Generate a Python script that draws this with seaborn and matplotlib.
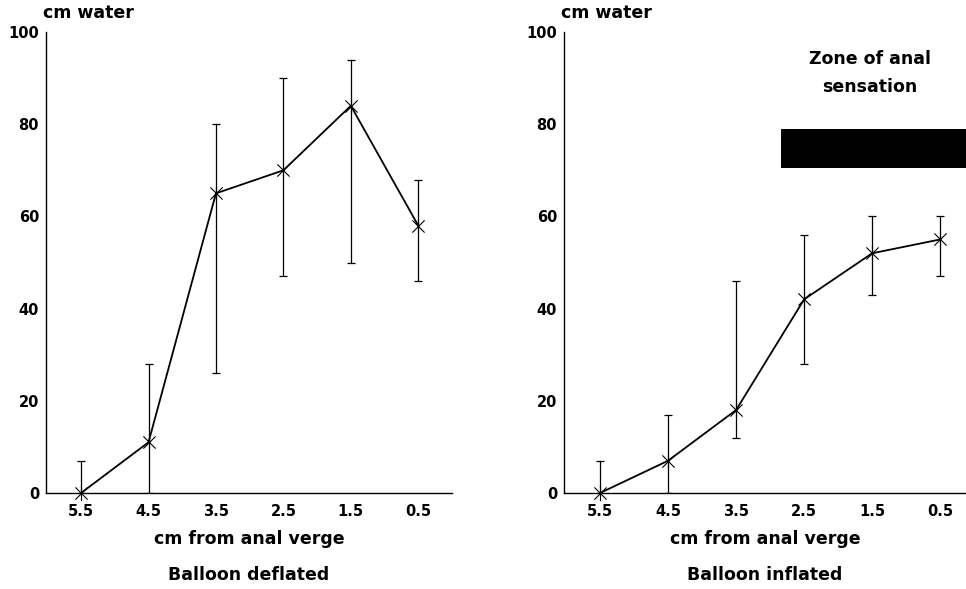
import matplotlib
matplotlib.use("Agg")
import matplotlib.pyplot as plt
from matplotlib.path import Path
import seaborn as sns
import pandas as pd

# ---- data ----
positions = [5.5, 4.5, 3.5, 2.5, 1.5, 0.5]
tick_labels = ["5.5", "4.5", "3.5", "2.5", "1.5", "0.5"]

deflated_mean = [0, 11, 65, 70, 84, 58]
deflated_low = [0, 0, 26, 47, 50, 46]
deflated_high = [7, 28, 80, 90, 94, 68]

inflated_mean = [0, 7, 18, 42, 52, 55]
inflated_low = [0, 0, 12, 28, 43, 47]
inflated_high = [7, 17, 46, 56, 60, 60]

zone_x = [2.84, 0.0]
zone_y = [70.5, 79.0]
zone_label = "Zone of anal\nsensation"

y_ticks = [0, 20, 40, 60, 80, 100]
y_label = "cm water"
x_label = "cm from anal verge"
titles = ["Balloon deflated", "Balloon inflated"]

sns.set_theme(style="white")
plt.rcParams["font.family"] = ["DejaVu Sans"]
plt.rcParams["font.weight"] = "bold"
plt.rcParams["text.color"] = "black"

# asterisk marker: vertical stroke plus two diagonals
star = Path([(0, -1), (0, 1), (-0.8, -0.8), (0.8, 0.8), (-0.8, 0.8), (0.8, -0.8)],
            [Path.MOVETO, Path.LINETO, Path.MOVETO, Path.LINETO, Path.MOVETO, Path.LINETO])

fig = plt.figure(figsize=(9.66, 5.89), dpi=100)
axL = fig.add_axes([46 / 966, 1 - 493 / 589, (452 - 46) / 966, (493 - 32) / 589])
axR = fig.add_axes([564 / 966, 1 - 493 / 589, (966 - 564) / 966, (493 - 32) / 589])

panels = [
    (axL, deflated_mean, deflated_low, deflated_high, (6.02, 0.0)),
    (axR, inflated_mean, inflated_low, inflated_high, (6.03, 0.12)),
]

for i, (ax, mean, low, high, xl) in enumerate(panels):
    df = pd.DataFrame({"pos": positions, "val": mean})
    ax.errorbar(positions, mean,
                yerr=[[m - l for m, l in zip(mean, low)], [h - m for m, h in zip(mean, high)]],
                fmt="none", ecolor="black", elinewidth=0.9, capsize=3, capthick=0.9, zorder=2)
    sns.lineplot(data=df, x="pos", y="val", ax=ax, color="black", linewidth=1.3,
                 marker=star, markersize=11, markeredgecolor="black",
                 markerfacecolor="none", markeredgewidth=0.8, zorder=3, clip_on=False)
    ax.set_xlim(*xl)
    ax.set_ylim(0, 100)
    ax.set_xticks(positions)
    ax.set_xticklabels(tick_labels)
    ax.set_yticks(y_ticks)
    ax.set_xlabel("")
    ax.set_ylabel("")
    for s in ["top", "right"]:
        ax.spines[s].set_visible(False)
    for s in ["left", "bottom"]:
        ax.spines[s].set_color("black")
        ax.spines[s].set_linewidth(1.0)
    ax.tick_params(axis="both", direction="in", length=5, width=0.9, colors="black",
                   labelsize=10.5, pad=5)
    ax.tick_params(axis="x", pad=8)
    for lab in ax.get_xticklabels() + ax.get_yticklabels():
        lab.set_fontweight("bold")
    ax.set_facecolor("white")
    ax.text(-0.007, 1.022, y_label, transform=ax.transAxes, fontsize=12.5,
            fontweight="bold", ha="left", va="bottom", color="black")
    ax.text(0.5, -0.1, x_label, transform=ax.transAxes, fontsize=12.5,
            fontweight="bold", ha="center", va="center", color="black")
    ax.text(0.5, -0.178, titles[i], transform=ax.transAxes, fontsize=12.5,
            fontweight="bold", ha="center", va="center", color="black")

axR.fill_betweenx(zone_y, zone_x[0], zone_x[1], color="black", linewidth=0, zorder=1)
axR.text(1.53, 91.1, zone_label, fontsize=12.5, fontweight="bold", ha="center",
         va="center", linespacing=1.75, color="black")

fig.savefig("out.png", dpi=100, facecolor="white")
